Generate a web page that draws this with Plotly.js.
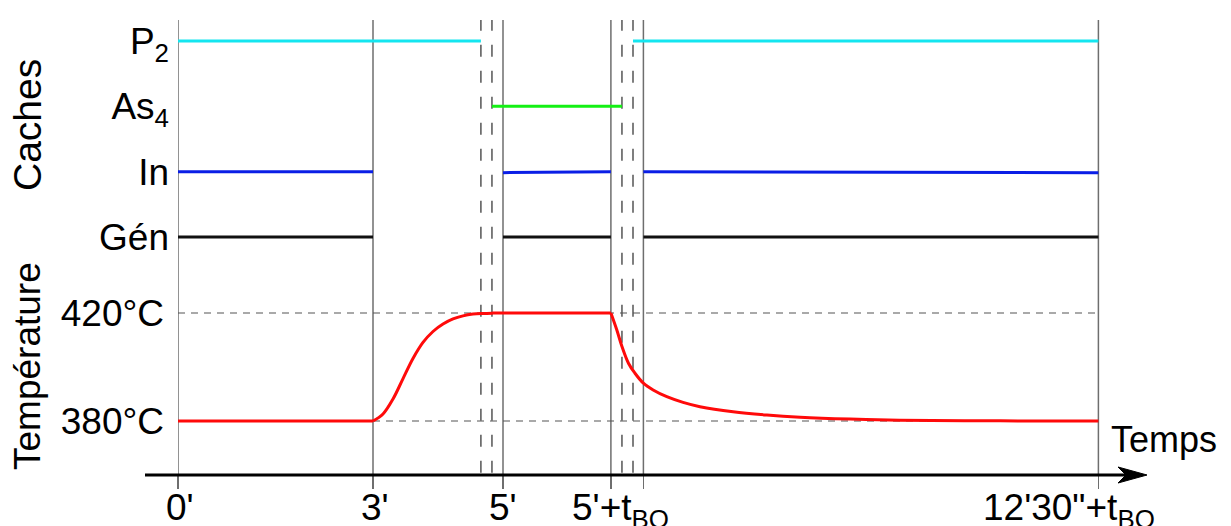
<!DOCTYPE html>
<html>
<head>
<meta charset="utf-8">
<script src="https://cdn.plot.ly/plotly-3.0.1.min.js"></script>
<style>html,body{margin:0;padding:0;background:#fff;}#chart{width:1231px;height:526px;}</style>
</head>
<body>
<div id="chart"></div>
<script>
// ---- data ----
const tBQ = 1.66; // duration t_BQ (symbolic, scaled as drawn)

// event times (minutes)
const solidTimes  = [0, 3, 5, 5 + tBQ, 5.5 + tBQ, 12.5 + tBQ];
const dashedTimes = [4.66, 4.83, 5.17 + tBQ, 5.34 + tBQ];
const xTickTimes  = [0, 3, 5, 5 + tBQ, 12.5 + tBQ];
const xTickLabels = ["0'", "3'", "5'", "5'+t<sub>BQ</sub>", "12'30\"+t<sub>BQ</sub>"];

// shutters (caches): open level drawn on intervals
const cacheLevels = [0, 1, 2, 3];
const cacheLabels = ["Gén", "In", "As<sub>4</sub>", "P<sub>2</sub>"];
const genX = [0, 3, null, 5, 5 + tBQ, null, 5.5 + tBQ, 12.5 + tBQ];
const genY = [0, 0, null, 0, 0, null, 0, 0];
const inX  = [0, 3, null, 5, 5 + tBQ, null, 5.5 + tBQ, 12.5 + tBQ];
const inY  = [1, 1, null, 0.985, 1.0, null, 1.0, 0.985];
const as4X = [4.83, 5.17 + tBQ];
const as4Y = [2, 2];
const p2X  = [0, 4.66, null, 5.34 + tBQ, 12.5 + tBQ];
const p2Y  = [3, 3, null, 3, 3];

// temperature (°C)
const tempTicks = [380, 420];
const tempTickLabels = ["380°C", "420°C"];
const holdX = [0, 3.0];
const holdY = [380, 380];
const riseX = [3.0, 3.154, 3.308, 3.462, 3.615, 3.769, 3.923, 4.077, 4.231, 4.385, 4.538, 4.692, 4.846, 5.0];
const riseY = [380, 382.6, 388.15, 395.7, 403.15, 409.1, 413.15, 415.9, 417.8, 418.95, 419.6, 419.85, 419.96, 420];
const plateauX = [5.0, 5 + tBQ];
const plateauY = [420, 420];
const coolX = [6.66, 6.75, 6.83, 6.93, 7.03, 7.16, 7.31, 7.52, 7.77, 8.03, 8.54, 9.06,
               9.57, 10.34, 11.1, 12.65, 14.16];
const coolY = [420, 413.8, 407.6, 401.4, 397.7, 394.0, 391.5, 389.0, 386.9, 385.3, 383.4, 382.2,
               381.4, 380.7, 380.3, 380.05, 380];

// ---- layout geometry ----
const FONT = "Liberation Sans, Arial, Helvetica, sans-serif";
const FS = 37;
const L = 178, R = 86, T = 0, B = 51;
const W = 1231 - L - R, H = 526 - T - B;
const pxPerMin = 65;
const xRange = [0, W / pxPerMin];
const pxPerDeg = 2.7;
const yTempRange = [380 - (H - 421) / pxPerDeg, 380 + 421 / pxPerDeg];
const lvlPx = 65.33;
const yCacheRange = [-(H - 237) / lvlPx, 237 / lvlPx];
const topFrac = (H - 20) / H;
const px2paperX = p => (p - L) / W;
const px2paperY = p => (H - p) / H;

const RED = '#ff0a0a';
const traces = [
  {x: genX, y: genY, yaxis: 'y2', mode: 'lines', line: {color: '#111111', width: 3}, connectgaps: false},
  {x: inX, y: inY, yaxis: 'y2', mode: 'lines', line: {color: '#0a1ee6', width: 3}, connectgaps: false},
  {x: as4X, y: as4Y, yaxis: 'y2', mode: 'lines', line: {color: '#14f014', width: 3}},
  {x: p2X, y: p2Y, yaxis: 'y2', mode: 'lines', line: {color: '#14e6f0', width: 3}, connectgaps: false},
  {x: holdX, y: holdY, yaxis: 'y', mode: 'lines', line: {color: RED, width: 3}},
  {x: riseX, y: riseY, yaxis: 'y', mode: 'lines', line: {color: RED, width: 3, shape: 'spline', smoothing: 1}},
  {x: plateauX, y: plateauY, yaxis: 'y', mode: 'lines', line: {color: RED, width: 3}},
  {x: coolX, y: coolY, yaxis: 'y', mode: 'lines', line: {color: RED, width: 3, shape: 'spline', smoothing: 1}}
];

const shapes = [];
solidTimes.forEach(t => shapes.push({type: 'line', xref: 'x', yref: 'paper', x0: t, x1: t, y0: 0, y1: topFrac,
  line: {color: '#6e6e6e', width: 1.5}, layer: 'below'}));
dashedTimes.forEach(t => shapes.push({type: 'line', xref: 'x', yref: 'paper', x0: t, x1: t, y0: 0.005, y1: topFrac,
  line: {color: '#555555', width: 1.5, dash: '12px,14px'}, layer: 'below'}));
tempTicks.forEach(v => shapes.push({type: 'line', xref: 'x', yref: 'y', x0: 0, x1: 12.5 + tBQ, y0: v, y1: v,
  line: {color: '#555555', width: 1.1, dash: '7px,6px'}, layer: 'below'}));
// time axis with arrow
shapes.push({type: 'line', xref: 'paper', yref: 'paper', x0: px2paperX(145), x1: px2paperX(1128), y0: 0, y1: 0,
  line: {color: '#000', width: 3}, layer: 'above'});
const ay = 8 / H;
shapes.push({type: 'path', xref: 'paper', yref: 'paper', layer: 'above',
  path: `M ${px2paperX(1147)} 0 L ${px2paperX(1118)} ${ay} L ${px2paperX(1126)} 0 L ${px2paperX(1118)} ${-ay} Z`,
  fillcolor: '#000', line: {color: '#000', width: 1}});

const xLabelShift = [2, 2, 0, 10, -29];
const annotations = xTickTimes.map((t, i) => ({
  x: t, xref: 'x', y: 0, yref: 'paper', yanchor: 'top', xanchor: 'center', yshift: -10, xshift: xLabelShift[i],
  text: xTickLabels[i], showarrow: false, font: {family: FONT, size: FS, color: '#000'}
}));
annotations.push({x: px2paperX(27), y: px2paperY(125), xref: 'paper', yref: 'paper', xanchor: 'center', yanchor: 'middle',
  text: 'Caches', textangle: -90, showarrow: false, font: {family: FONT, size: 39, color: '#000'}});
annotations.push({x: px2paperX(27), y: px2paperY(366), xref: 'paper', yref: 'paper', xanchor: 'center', yanchor: 'middle',
  text: 'Température', textangle: -90, showarrow: false, font: {family: FONT, size: FS, color: '#000'}});
annotations.push({x: px2paperX(1164), y: px2paperY(439), xref: 'paper', yref: 'paper', xanchor: 'center', yanchor: 'middle',
  text: 'Temps', showarrow: false, font: {family: FONT, size: 36, color: '#000'}});

const layout = {
  width: 1231, height: 526,
  margin: {l: L, r: R, t: T, b: B, pad: 0},
  paper_bgcolor: '#fff', plot_bgcolor: '#fff',
  showlegend: false,
  font: {family: FONT, size: FS, color: '#000'},
  xaxis: {range: xRange, showgrid: false, zeroline: false, showline: false,
    tickmode: 'array', tickvals: solidTimes, ticktext: solidTimes.map(() => ''),
    ticks: 'outside', ticklen: 13, tickwidth: 1.5, tickcolor: '#6e6e6e'},
  yaxis: {range: yTempRange, showgrid: false, zeroline: false, showline: false,
    tickmode: 'array', tickvals: tempTicks, ticktext: tempTickLabels,
    ticks: '', ticklabelstandoff: 13, tickfont: {family: FONT, size: FS, color: '#000'}},
  yaxis2: {range: yCacheRange, overlaying: 'y', side: 'left', anchor: 'x', showgrid: false, zeroline: false, showline: false,
    tickmode: 'array', tickvals: cacheLevels, ticktext: cacheLabels,
    ticks: '', ticklabelstandoff: 8, tickfont: {family: FONT, size: FS, color: '#000'}},
  shapes: shapes,
  annotations: annotations
};

Plotly.newPlot('chart', traces, layout, {staticPlot: true, displayModeBar: false});
</script>
</body>
</html>
